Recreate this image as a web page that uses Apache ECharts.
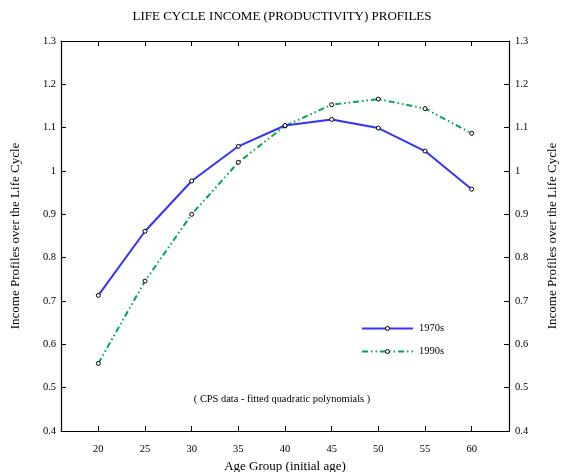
<!DOCTYPE html>
<html>
<head>
<meta charset="utf-8">
<script src="https://cdn.jsdelivr.net/npm/echarts@6/dist/echarts.min.js"></script>
<style>html,body{margin:0;padding:0;background:#fff}#c{width:564px;height:472px}</style>
</head>
<body>
<div id="c"></div>
<script>
var ages = [20, 25, 30, 35, 40, 45, 50, 55, 60];
var income1970s = [0.713, 0.861, 0.977, 1.057, 1.105, 1.119, 1.099, 1.046, 0.958];
var income1990s = [0.556, 0.746, 0.900, 1.020, 1.104, 1.153, 1.166, 1.144, 1.087];
var yTicks = [0.4, 0.5, 0.6, 0.7, 0.8, 0.9, 1, 1.1, 1.2, 1.3];
var xTicks = [20, 25, 30, 35, 40, 45, 50, 55, 60];

var FONT = '"Liberation Serif", "DejaVu Serif", serif';
var chart = echarts.init(document.getElementById('c'), null, {renderer: 'canvas'});

function pairs(xs, ys) { return xs.map(function (x, i) { return [x, ys[i]]; }); }

var axisLine = {show: true, lineStyle: {color: '#000', width: 1.2}};
var tickStyle = {color: '#000', width: 1};

chart.setOption({
  animation: false,
  backgroundColor: '#fff',
  textStyle: {fontFamily: FONT},
  title: {
    text: 'LIFE CYCLE INCOME (PRODUCTIVITY) PROFILES',
    left: 'center', top: 5,
    textStyle: {fontFamily: FONT, fontSize: 13, fontWeight: 'normal', color: '#000'}
  },
  grid: {left: 61, right: 55, top: 41, bottom: 41, containLabel: false, outerBoundsMode: 'none'},
  legend: {
    orient: 'vertical',
    left: 361, top: 323, padding: 0,
    itemWidth: 51, itemHeight: 5, itemGap: 12,
    itemStyle: {borderWidth: 1},
    textStyle: {fontFamily: FONT, fontSize: 10.5, color: '#000', padding: [0, 0, 0, 1]},
    data: ['1970s', '1990s']
  },
  graphic: [{
    type: 'text',
    left: 'center', top: 394,
    style: {text: '( CPS data - fitted quadratic polynomials )', font: '10.4px ' + FONT, fill: '#000'}
  }],
  xAxis: [{
    type: 'value', min: 16, max: 64, position: 'bottom',
    name: 'Age Group (initial age)', nameLocation: 'middle', nameGap: 23,
    nameTextStyle: {fontFamily: FONT, fontSize: 13, color: '#000'},
    axisLine: axisLine,
    axisTick: {show: true, inside: true, length: 5, lineStyle: tickStyle, customValues: xTicks},
    axisLabel: {show: true, margin: 13, fontFamily: FONT, fontSize: 10.5, color: '#000', customValues: xTicks},
    splitLine: {show: false}
  }, {
    type: 'value', min: 16, max: 64, position: 'top',
    axisLine: axisLine,
    axisTick: {show: true, inside: true, length: 5, lineStyle: tickStyle, customValues: xTicks},
    axisLabel: {show: false},
    splitLine: {show: false}
  }],
  yAxis: [{
    type: 'value', min: 0.4, max: 1.3, interval: 0.1, position: 'left',
    name: 'Income Profiles over the Life Cycle', nameLocation: 'middle', nameGap: 39, nameRotate: 90,
    nameTextStyle: {fontFamily: FONT, fontSize: 13, color: '#000'},
    axisLine: axisLine,
    axisTick: {show: true, inside: true, length: 5, lineStyle: tickStyle},
    axisLabel: {margin: 5, fontFamily: FONT, fontSize: 10.5, color: '#000',
      formatter: function (v) { return String(Math.round(v * 10) / 10); }},
    splitLine: {show: false}
  }, {
    type: 'value', min: 0.4, max: 1.3, interval: 0.1, position: 'right',
    name: 'Income Profiles over the Life Cycle', nameLocation: 'middle', nameGap: 37, nameRotate: 90,
    nameTextStyle: {fontFamily: FONT, fontSize: 13, color: '#000'},
    axisLine: axisLine,
    axisTick: {show: true, inside: true, length: 5, lineStyle: tickStyle},
    axisLabel: {margin: 6, fontFamily: FONT, fontSize: 10.5, color: '#000',
      formatter: function (v) { return String(Math.round(v * 10) / 10); }},
    splitLine: {show: false}
  }],
  series: [{
    name: '1970s', type: 'line', xAxisIndex: 0, yAxisIndex: 0,
    data: pairs(ages, income1970s),
    symbol: 'circle', symbolSize: 4, showAllSymbol: true,
    itemStyle: {color: '#fff', borderColor: '#000', borderWidth: 1},
    lineStyle: {color: '#3333ff', width: 2, type: 'solid'},
    z: 3
  }, {
    name: '1990s', type: 'line', xAxisIndex: 0, yAxisIndex: 0,
    data: pairs(ages, income1990s),
    symbol: 'circle', symbolSize: 4, showAllSymbol: true,
    itemStyle: {color: '#fff', borderColor: '#000', borderWidth: 1},
    lineStyle: {color: '#00a651', width: 2, type: [6, 3, 1.5, 3, 1.5, 3]},
    z: 2
  }]
});
</script>
</body>
</html>
